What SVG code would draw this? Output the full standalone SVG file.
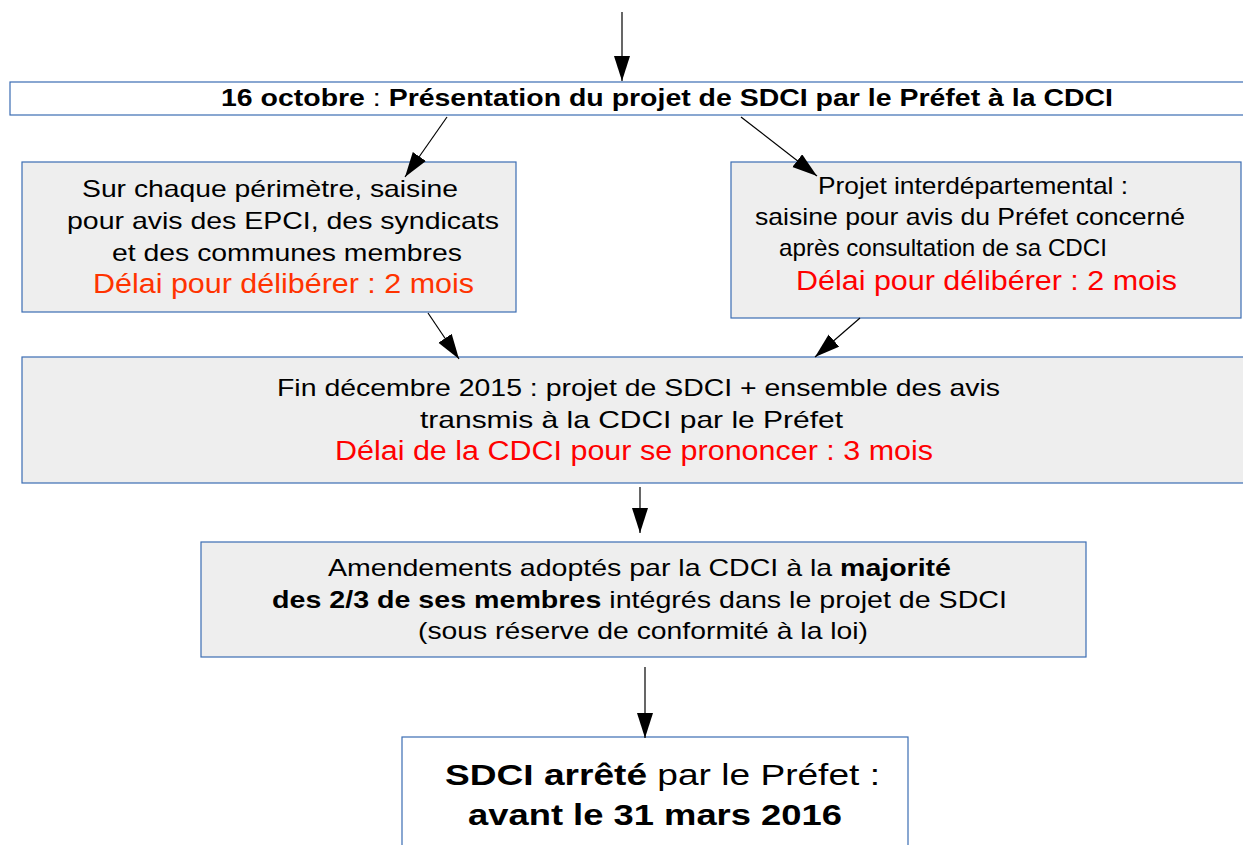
<svg xmlns="http://www.w3.org/2000/svg" width="1243" height="845" viewBox="0 0 1243 845">
<style>
.box{stroke:#3b6db3;stroke-width:1.2}
.grey{fill:#eeeeee}
.white{fill:#ffffff}
text{font-family:"Liberation Sans",Arial,sans-serif;fill:#000}
.t{font-size:24px}
.r1{font-size:27px;fill:#ff3300}
.r2{font-size:27px;fill:#ff0000}
.b{font-weight:bold}
.n{font-weight:normal}
.conn line{stroke:#000;stroke-width:1.2;marker-end:url(#ah)}
</style>
<defs>
<marker id="ah" markerUnits="userSpaceOnUse" markerWidth="26" markerHeight="18" refX="25" refY="8" orient="auto">
<path d="M0,0 L25,8 L0,16 z" fill="#000"/>
</marker>
</defs>
<rect width="1243" height="845" fill="#fff"/>
<g id="n-top">
<rect class="box white" x="10" y="82" width="1240" height="33"/>
<text class="b" x="221" y="106" font-size="23" textLength="892" lengthAdjust="spacingAndGlyphs">16 octobre<tspan class="n"> : </tspan>Présentation du projet de SDCI par le Préfet à la CDCI</text>
</g>
<g id="n-left">
<rect class="box grey" x="22" y="162" width="494" height="150"/>
<text class="t" x="82" y="197" textLength="376" lengthAdjust="spacingAndGlyphs">Sur chaque périmètre, saisine</text>
<text class="t" x="67" y="229" textLength="432" lengthAdjust="spacingAndGlyphs">pour avis des EPCI, des syndicats</text>
<text class="t" x="112" y="261" textLength="350" lengthAdjust="spacingAndGlyphs">et des communes membres</text>
<text class="r1" x="93" y="293" textLength="381" lengthAdjust="spacingAndGlyphs">Délai pour délibérer : 2 mois</text>
</g>
<g id="n-right">
<rect class="box grey" x="731" y="162" width="510" height="156"/>
<text class="t" x="818" y="194" textLength="310" lengthAdjust="spacingAndGlyphs">Projet interdépartemental :</text>
<text class="t" x="755" y="225" textLength="430" lengthAdjust="spacingAndGlyphs">saisine pour avis du Préfet concerné</text>
<text class="t" x="779" y="256" textLength="328" lengthAdjust="spacingAndGlyphs">après consultation de sa CDCI</text>
<text class="r2" x="796" y="290" textLength="381" lengthAdjust="spacingAndGlyphs">Délai pour délibérer : 2 mois</text>
</g>
<g id="n-mid">
<rect class="box grey" x="22" y="357" width="1230" height="126"/>
<text class="t" x="277" y="396" textLength="723" lengthAdjust="spacingAndGlyphs">Fin décembre 2015 : projet de SDCI + ensemble des avis</text>
<text class="t" x="420" y="428" textLength="423" lengthAdjust="spacingAndGlyphs">transmis à la CDCI par le Préfet</text>
<text class="r2" x="335" y="460" textLength="598" lengthAdjust="spacingAndGlyphs">Délai de la CDCI pour se prononcer : 3 mois</text>
</g>
<g id="n-amend">
<rect class="box grey" x="201" y="542" width="885" height="115"/>
<text class="t" x="328" y="576" textLength="623" lengthAdjust="spacingAndGlyphs">Amendements adoptés par la CDCI à la <tspan class="b">majorité</tspan></text>
<text class="t" x="272" y="608" textLength="735" lengthAdjust="spacingAndGlyphs"><tspan class="b">des 2/3 de ses membres</tspan> intégrés dans le projet de SDCI</text>
<text class="t" x="418" y="639" textLength="450" lengthAdjust="spacingAndGlyphs">(sous réserve de conformité à la loi)</text>
</g>
<g id="n-final">
<rect class="box white" x="402" y="737" width="506" height="120"/>
<text x="445" y="785" font-size="30" textLength="435" lengthAdjust="spacingAndGlyphs"><tspan class="b">SDCI arrêté</tspan> par le Préfet :</text>
<text class="b" x="468" y="825" font-size="30" textLength="374" lengthAdjust="spacingAndGlyphs">avant le 31 mars 2016</text>
</g>
<g id="connectors" class="conn">
<line x1="622" y1="12" x2="622" y2="81"/>
<line x1="447" y1="117" x2="405" y2="177"/>
<line x1="741" y1="117" x2="817" y2="176"/>
<line x1="428" y1="313" x2="459" y2="359"/>
<line x1="860" y1="318" x2="815" y2="357"/>
<line x1="640" y1="487" x2="640" y2="533"/>
<line x1="645" y1="667" x2="645" y2="738"/>
</g>
</svg>
